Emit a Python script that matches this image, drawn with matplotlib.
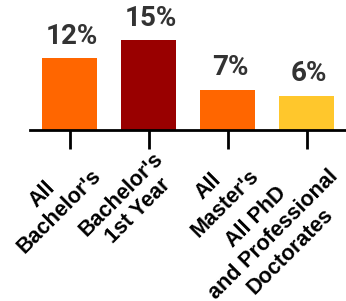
import matplotlib
matplotlib.use("Agg")
import matplotlib.pyplot as plt
import matplotlib.transforms as mtransforms

categories = ["All\nBachelor's", "Bachelor's\n1st Year", "All\nMaster's",
              "All PhD\nand Professional\nDoctorates"]
values = [12.0, 15.0, 6.7, 5.7]
labels = ["12%", "15%", "7%", "6%"]
colors = ["#FF6600", "#990000", "#FF6600", "#FFC72C"]

fig = plt.figure(figsize=(3.46, 3.01), dpi=100)
ax = fig.add_axes([30/346, (301-130)/301, 316/346, 130/301])
x = range(len(categories))
bars = ax.bar(x, values, width=0.7, color=colors)
ax.set_xlim(-0.5, 3.5)
ax.set_ylim(0, 130/6)
for b, lab in zip(bars, labels):
    ax.annotate(lab, (b.get_x() + b.get_width()/2, b.get_height()),
                xytext=(2, 6), textcoords="offset points", ha="center", va="bottom",
                fontsize=20, fontweight="bold", color="#333333", family="Roboto")
for s in ["top", "right", "left"]:
    ax.spines[s].set_visible(False)
ax.spines["bottom"].set_linewidth(2)
ax.spines["bottom"].set_color("black")
ax.set_yticks([])
ax.set_xticks(list(x))
ax.tick_params(axis="x", length=14, width=2, color="black", pad=2)
ax.set_xticklabels(categories, rotation=45, ha="right", va="top",
                   rotation_mode="anchor", multialignment="center",
                   fontsize=15.5, fontweight="bold", family="Liberation Sans",
                   linespacing=1.2)
offset = mtransforms.ScaledTranslation(4/100, 4/100, fig.dpi_scale_trans)
for t in ax.get_xticklabels():
    t.set_transform(t.get_transform() + offset)
fig.savefig("out.png", dpi=100)
